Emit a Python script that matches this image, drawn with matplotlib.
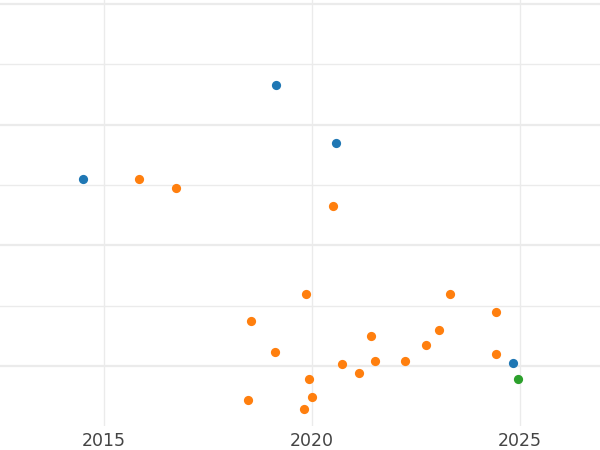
import matplotlib
matplotlib.use("Agg")
import matplotlib.pyplot as plt
from matplotlib.ticker import MultipleLocator

blue_x = [2014.50, 2019.13, 2020.58, 2024.83]
blue_y = [15.49, 23.28, 18.48, 0.25]
orange_x = [2015.84, 2016.73, 2020.50, 2019.86, 2018.53, 2019.11, 2018.46, 2019.93,
            2020.00, 2019.81, 2020.72, 2021.13, 2021.42, 2021.51, 2022.24, 2022.74,
            2023.05, 2023.32, 2024.42, 2024.42]
orange_y = [15.49, 14.75, 13.26, 5.97, 3.73, 1.16, -2.82, -1.08,
            -2.57, -3.56, 0.17, -0.58, 2.49, 0.41, 0.41, 1.74,
            2.98, 5.97, 4.47, 0.99]
green_x = [2024.95]
green_y = [-1.08]
x_ticks = [2015, 2020, 2025]

fig = plt.figure(figsize=(6, 4.5), dpi=100)
ax = fig.add_axes([0, 24/450, 1, 426/450])
ax.set_xlim(2012.5, 2026.92)
ax.set_ylim(-4.97, 30.32)

ax.yaxis.set_major_locator(MultipleLocator(10))
ax.yaxis.set_minor_locator(MultipleLocator(5))
ax.set_xticks(x_ticks)
ax.set_xticklabels([str(t) for t in x_ticks])

ax.grid(True, which='major', axis='y', color='#ebebeb', linewidth=1.6)
ax.grid(True, which='minor', axis='y', color='#ebebeb', linewidth=1.0)
ax.grid(True, which='major', axis='x', color='#ebebeb', linewidth=1.0)
ax.set_axisbelow(True)

ax.tick_params(axis='both', which='both', length=0)
ax.tick_params(axis='x', labelsize=12.5, labelcolor='#444444', pad=4)
ax.tick_params(axis='y', which='both', labelleft=False)
for s in ax.spines.values():
    s.set_visible(False)

kw = dict(s=44, linewidths=0, zorder=3, clip_on=False)
ax.scatter(blue_x, blue_y, color='#1f77b4', **kw)
ax.scatter(orange_x, orange_y, color='#ff7f0e', **kw)
ax.scatter(green_x, green_y, color='#2ca02c', **kw)

fig.savefig("out.png", dpi=100)
